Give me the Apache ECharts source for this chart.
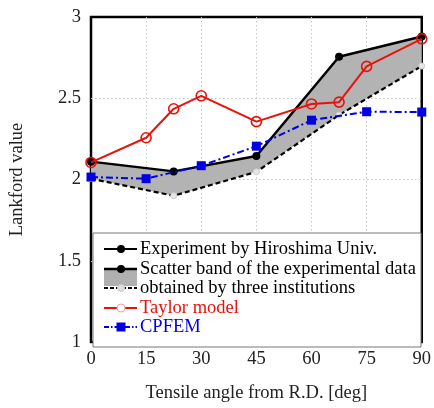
<!DOCTYPE html>
<html><head><meta charset="utf-8">
<script src="https://cdn.jsdelivr.net/npm/echarts@6/dist/echarts.min.js"></script>
<style>html,body{margin:0;padding:0;background:#fff}#c{width:434px;height:408px}</style>
</head><body><div id="c"></div>
<script>
// Data
const xTicks = [0, 15, 30, 45, 60, 75, 90];
const yTicks = [1, 1.5, 2, 2.5, 3];
const expAngles = [0, 22.5, 45, 67.5, 90];
const expHiroshima = [2.11, 2.05, 2.145, 2.755, 2.88];
const bandLower = [2.005, 1.90, 2.047, 2.397, 2.698];
const taylorAngles = [0, 15, 22.5, 30, 45, 60, 67.5, 75, 90];
const taylorValues = [2.105, 2.257, 2.435, 2.515, 2.356, 2.465, 2.476, 2.696, 2.866];
const cpfemAngles = [0, 15, 30, 45, 60, 75, 90];
const cpfemValues = [2.015, 2.005, 2.085, 2.205, 2.365, 2.417, 2.415];

const font = '"Liberation Serif","Times New Roman",serif';
const pair = (xs, ys) => xs.map((x, i) => [x, ys[i]]);
const bandData = expAngles.map((x, i) => [x, bandLower[i], expHiroshima[i]]);

const chart = echarts.init(document.getElementById('c'));
const legendElems = [];
const lx0 = 104, lx1 = 137, lxm = 121, tx = 140;
const rows = [249, 269, 288, 308, 327];
legendElems.push({type:'rect', shape:{x:93, y:233, width:328, height:114}, style:{fill:'#fff', stroke:'#777', lineWidth:1}, z:100});
legendElems.push({type:'line', shape:{x1:lx0,y1:rows[0],x2:lx1,y2:rows[0]}, style:{stroke:'#000', lineWidth:2}, z:101});
legendElems.push({type:'circle', shape:{cx:lxm, cy:rows[0], r:4}, style:{fill:'#000'}, z:102});
legendElems.push({type:'rect', shape:{x:lx0, y:270, width:33, height:16}, style:{fill:'#b0b0b0'}, z:101});
legendElems.push({type:'line', shape:{x1:lx0,y1:269,x2:lx1,y2:269}, style:{stroke:'#000', lineWidth:2.5}, z:102});
legendElems.push({type:'circle', shape:{cx:lxm, cy:269, r:4}, style:{fill:'#000'}, z:103});
legendElems.push({type:'line', shape:{x1:lx0,y1:288,x2:lx1,y2:288}, style:{stroke:'#000', lineWidth:1.8, lineDash:[4,2]}, z:102});
legendElems.push({type:'circle', shape:{cx:lxm, cy:288, r:3.5}, style:{fill:'#ddd', stroke:'#ccc', lineWidth:1}, z:103});
legendElems.push({type:'line', shape:{x1:lx0,y1:rows[3],x2:lx1,y2:rows[3]}, style:{stroke:'#e8120c', lineWidth:1.8}, z:101});
legendElems.push({type:'circle', shape:{cx:lxm, cy:rows[3], r:4}, style:{fill:'#fff', stroke:'#f4a0a0', lineWidth:1}, z:102});
legendElems.push({type:'line', shape:{x1:lx0,y1:rows[4],x2:lx1,y2:rows[4]}, style:{stroke:'#0000e0', lineWidth:1.8, lineDash:[5,2,1.5,2]}, z:101});
legendElems.push({type:'rect', shape:{x:lxm-4.5, y:rows[4]-4.5, width:9, height:9}, style:{fill:'#0000e0'}, z:102});
const texts = [
  ['Experiment by Hiroshima Univ.', rows[0], '#000'],
  ['Scatter band of the experimental data', rows[1], '#000'],
  ['obtained by three institutions', rows[2], '#000'],
  ['Taylor model', rows[3], '#e8120c'],
  ['CPFEM', rows[4], '#0000e0']
];
texts.forEach(t => legendElems.push({type:'text', x:tx, y:t[1], style:{text:t[0], fill:t[2], font:'18.5px ' + font, verticalAlign:'middle'}, z:103}));

const split = {show: true, showMinLine: false, showMaxLine: false, lineStyle: {color: '#c8c8c8', type: [1.5, 2.5], width: 1}};
chart.setOption({
  animation: false,
  backgroundColor: '#fff',
  grid: {left: 90, right: 10, top: 17, bottom: 58, show: true, borderColor: '#000', borderWidth: 2.5, backgroundColor: 'transparent'},
  xAxis: {
    type: 'value', min: 0, max: 90, interval: 15,
    name: 'Tensile angle from R.D. [deg]', nameLocation: 'middle', nameGap: 42,
    nameTextStyle: {fontFamily: font, fontSize: 18.5, color: '#222'},
    axisLine: {show: false}, axisTick: {show: false},
    axisLabel: {fontFamily: font, fontSize: 18.5, color: '#222', margin: 8},
    splitLine: split
  },
  yAxis: {
    type: 'value', min: 1, max: 3, interval: 0.5,
    name: 'Lankford value', nameLocation: 'middle', nameGap: 64,
    nameTextStyle: {fontFamily: font, fontSize: 18.5, color: '#222'},
    axisLine: {show: false}, axisTick: {show: false},
    axisLabel: {fontFamily: font, fontSize: 18.5, color: '#222', margin: 10},
    splitLine: split
  },
  series: [
    {type:'custom', name:'band', data: bandData, silent:true, z:1,
      renderItem: function (params, api) {
        if (params.dataIndex !== 0) return null;
        const upper = bandData.map(d => api.coord([d[0], d[2]]));
        const lower = bandData.slice().reverse().map(d => api.coord([d[0], d[1]]));
        return {type:'polygon', shape:{points: upper.concat(lower)}, style:{fill:'#b3b3b3', stroke:'none'}};
      }
    },
    {type:'line', name:'lower', data: pair(expAngles, bandLower), symbol:'circle', symbolSize:6,
      itemStyle:{color:'#e6e6e6', borderColor:'#cfcfcf', borderWidth:1},
      lineStyle:{color:'#000', width:2.2, type:[5,3]}, z:2},
    {type:'line', name:'Experiment by Hiroshima Univ.', data: pair(expAngles, expHiroshima), symbol:'circle', symbolSize:8,
      itemStyle:{color:'#000'}, lineStyle:{color:'#000', width:2.5}, z:3},
    {type:'line', name:'CPFEM', data: pair(cpfemAngles, cpfemValues), symbol:'rect', symbolSize:9,
      itemStyle:{color:'#0000e0'}, lineStyle:{color:'#0000e0', width:2, type:[7,3,2,3]}, z:4},
    {type:'line', name:'Taylor model', data: pair(taylorAngles, taylorValues), symbol:'circle', symbolSize:10,
      itemStyle:{color:'rgba(0,0,0,0)', borderColor:'#e8120c', borderWidth:1.6}, lineStyle:{color:'#e8120c', width:2}, z:5}
  ],
  graphic: legendElems
});
</script></body></html>
